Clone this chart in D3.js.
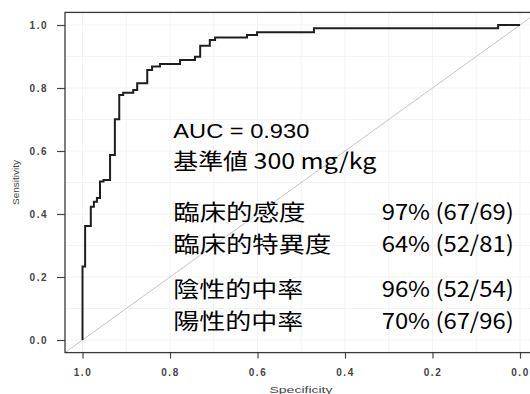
<!DOCTYPE html>
<html>
<head>
<meta charset="utf-8">
<script src="https://cdn.jsdelivr.net/npm/d3@7"></script>
<style>
  body { margin: 0; background: #fff; }
  svg { display: block; }
</style>
</head>
<body>
<div id="chart"></div>
<script>
// ROC curve vertices (specificity, sensitivity)
const specificity = [1.000, 1.000, 0.994, 0.994, 0.981, 0.981, 0.974, 0.974, 0.967, 0.967,
  0.960, 0.960, 0.952, 0.952, 0.937, 0.937, 0.926, 0.926, 0.916, 0.916,
  0.907, 0.907, 0.884, 0.884, 0.875, 0.875, 0.852, 0.852, 0.841, 0.841,
  0.823, 0.823, 0.777, 0.777, 0.743, 0.743, 0.731, 0.731, 0.709, 0.709,
  0.697, 0.697, 0.624, 0.624, 0.601, 0.601, 0.471, 0.471, 0.050, 0.050, 0.000];
const sensitivity = [0.000, 0.233, 0.233, 0.362, 0.362, 0.423, 0.423, 0.439, 0.439, 0.451,
  0.451, 0.503, 0.503, 0.508, 0.508, 0.587, 0.587, 0.701, 0.701, 0.778,
  0.778, 0.785, 0.785, 0.794, 0.794, 0.815, 0.815, 0.857, 0.857, 0.868,
  0.868, 0.876, 0.876, 0.889, 0.889, 0.899, 0.899, 0.934, 0.934, 0.952,
  0.952, 0.960, 0.960, 0.968, 0.968, 0.977, 0.977, 0.990, 0.990, 1.000, 1.000];

const xTicks = [1.0, 0.8, 0.6, 0.4, 0.2, 0.0];
const yTicks = [0.0, 0.2, 0.4, 0.6, 0.8, 1.0];

const statNames = ["臨床的感度", "臨床的特異度", "陰性的中率", "陽性的中率"];
const statValues = ["97% (67/69)", "64% (52/81)", "96% (52/54)", "70% (67/96)"];
const aucLabel = "AUC = 0.930";
const cutoffLabel = "基準値 300 mg/kg";

const width = 530;
const height = 394;

// plot region (R style 4% expansion on both axes)
const plot = { left: 65, right: 537.5, top: 12.4, bottom: 352.6 };

const svg = d3.select("#chart")
  .append("svg")
  .attr("width", width)
  .attr("height", height)
  .attr("viewBox", `0 0 ${width} ${height}`);

const x = d3.scaleLinear().domain([1.04, -0.04]).range([plot.left, plot.right]);
const y = d3.scaleLinear().domain([-0.04, 1.04]).range([plot.bottom, plot.top]);

// faint grid
const grid = svg.append("g").attr("class", "grid");
const gridVals = d3.range(0, 11).map((d) => d / 10);
grid.selectAll("line.gx")
  .data(gridVals)
  .join("line")
  .attr("class", "gx")
  .attr("x1", (d) => x(d)).attr("x2", (d) => x(d))
  .attr("y1", plot.top).attr("y2", plot.bottom)
  .attr("stroke", "#f3f3f3");
grid.selectAll("line.gy")
  .data(gridVals)
  .join("line")
  .attr("class", "gy")
  .attr("y1", (d) => y(d)).attr("y2", (d) => y(d))
  .attr("x1", plot.left).attr("x2", plot.right)
  .attr("stroke", "#f3f3f3");

// chance diagonal, clipped to the plot box
svg.append("line")
  .attr("x1", x(1.04)).attr("y1", y(-0.04))
  .attr("x2", x(-0.04)).attr("y2", y(1.04))
  .attr("stroke", "#c4c4c4")
  .attr("stroke-width", 1);

// axes
const fmt = d3.format(".1f");
const xAxis = svg.append("g")
  .attr("transform", `translate(0, ${plot.bottom})`)
  .call(d3.axisBottom(x).tickValues(xTicks).tickFormat(fmt).tickSize(6).tickPadding(10));
const yAxis = svg.append("g")
  .attr("transform", `translate(${plot.left}, 0)`)
  .call(d3.axisLeft(y).tickValues(yTicks).tickFormat(fmt).tickSize(8).tickPadding(9));

[xAxis, yAxis].forEach((ax) => {
  ax.select(".domain").remove();
  ax.selectAll(".tick line").attr("stroke", "#444").attr("stroke-width", 1.2);
  ax.selectAll(".tick text")
    .attr("fill", "#444")
    .style("font-family", "'Liberation Sans', Arial, sans-serif")
    .style("font-size", "10px")
    .style("font-weight", "bold")
    .style("letter-spacing", "1.5px");
});

// box
svg.append("rect")
  .attr("x", plot.left)
  .attr("y", plot.top)
  .attr("width", plot.right - plot.left)
  .attr("height", plot.bottom - plot.top)
  .attr("fill", "none")
  .attr("stroke", "#3a3a3a")
  .attr("stroke-width", 1.3);

// axis titles
svg.append("text")
  .attr("x", 301)
  .attr("y", 393)
  .attr("text-anchor", "middle")
  .attr("textLength", 63)
  .attr("lengthAdjust", "spacingAndGlyphs")
  .attr("fill", "#444")
  .style("font-family", "'Liberation Sans', Arial, sans-serif")
  .style("font-size", "9px")
  .text("Specificity");

svg.append("text")
  .attr("transform", "translate(19, 182.5) rotate(-90)")
  .attr("text-anchor", "middle")
  .attr("textLength", 45)
  .attr("lengthAdjust", "spacingAndGlyphs")
  .attr("fill", "#444")
  .style("font-family", "'Liberation Sans', Arial, sans-serif")
  .style("font-size", "9px")
  .text("Sensitivity");

// ROC curve
const points = specificity.map((s, i) => [s, sensitivity[i]]);
svg.append("path")
  .datum(points)
  .attr("fill", "none")
  .attr("stroke", "#1e1e1e")
  .attr("stroke-width", 2)
  .attr("stroke-linejoin", "miter")
  .attr(
    "d",
    d3.line()
      .x(([s]) => x(s))
      .y(([_, v]) => y(v)),
  );

// annotation block
const note = svg.append("g").attr("class", "note");
const jp = "'Noto Sans CJK JP', 'Noto Sans', sans-serif";

note.append("text")
  .attr("x", 173.3).attr("y", 138)
  .attr("textLength", 136)
  .attr("lengthAdjust", "spacingAndGlyphs")
  .style("font-family", "'Liberation Sans', Arial, sans-serif")
  .style("font-size", "21px")
  .text(aucLabel);

note.append("text")
  .attr("x", 173.3).attr("y", 169)
  .attr("textLength", 203)
  .attr("lengthAdjust", "spacingAndGlyphs")
  .style("font-family", jp)
  .style("font-size", "22px")
  .text(cutoffLabel);

const rowY = [220, 252, 296.7, 328.7];
const nameW = [132, 158, 130, 130];

note.selectAll("text.stat-name")
  .data(statNames)
  .join("text")
  .attr("class", "stat-name")
  .attr("x", 173.3)
  .attr("y", (d, i) => rowY[i])
  .attr("textLength", (d, i) => nameW[i])
  .attr("lengthAdjust", "spacingAndGlyphs")
  .style("font-family", jp)
  .style("font-size", "22px")
  .text((d) => d);

note.selectAll("text.stat-value")
  .data(statValues)
  .join("text")
  .attr("class", "stat-value")
  .attr("x", 381.7)
  .attr("y", (d, i) => rowY[i])
  .attr("textLength", 132)
  .attr("lengthAdjust", "spacingAndGlyphs")
  .style("font-family", jp)
  .style("font-size", "22px")
  .text((d) => d);
</script>
</body>
</html>
